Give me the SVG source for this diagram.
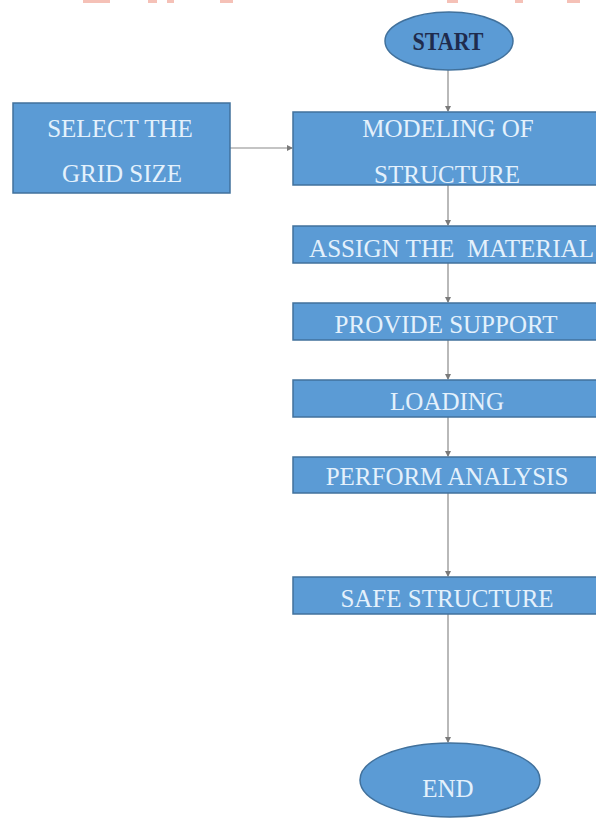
<svg xmlns="http://www.w3.org/2000/svg" width="596" height="821" viewBox="0 0 596 821">
  <style>
    .box { fill: #5b9bd5; stroke: #41719c; stroke-width: 1.5; }
    .lbl { font-family: "Liberation Serif", "Times New Roman", serif; font-size: 25px; fill: #e4f1fc; text-anchor: middle; }
    .dark { fill: #1f2b4d; font-weight: bold; }
    .link { stroke: #8a8a8a; stroke-width: 1.2; fill: none; marker-end: url(#tip); }
    .frag { fill: #e8765f; opacity: 0.45; }
  </style>
  <defs>
    <marker id="tip" viewBox="0 0 6 6" refX="5" refY="3" markerWidth="6" markerHeight="6" markerUnits="userSpaceOnUse" orient="auto">
      <path d="M0,0 L6,3 L0,6 Z" fill="#7a7a7a"/>
    </marker>
  </defs>

  <rect width="596" height="821" fill="#ffffff"/>

  <!-- clipped heading remnants along the top edge -->
  <g id="top-fragments">
    <rect class="frag" x="83" y="0" width="27" height="3"/>
    <rect class="frag" x="148" y="0" width="9" height="3"/>
    <rect class="frag" x="167" y="0" width="7" height="3"/>
    <rect class="frag" x="220" y="0" width="13" height="3"/>
    <rect class="frag" x="447" y="0" width="11" height="3"/>
    <rect class="frag" x="515" y="0" width="8" height="3"/>
    <rect class="frag" x="567" y="0" width="13" height="3"/>
  </g>

  <!-- connectors -->
  <g id="connectors">
    <line class="link" x1="448" y1="70" x2="448" y2="111"/>
    <line class="link" x1="230" y1="148" x2="292" y2="148"/>
    <line class="link" x1="448" y1="185" x2="448" y2="225"/>
    <line class="link" x1="448" y1="263" x2="448" y2="302"/>
    <line class="link" x1="448" y1="340" x2="448" y2="379"/>
    <line class="link" x1="448" y1="417" x2="448" y2="456"/>
    <line class="link" x1="448" y1="493" x2="448" y2="576"/>
    <line class="link" x1="448" y1="614" x2="448" y2="742"/>
  </g>

  <g id="start">
    <ellipse class="box" cx="449" cy="41" rx="64" ry="29"/>
    <text class="lbl dark" x="448" y="50" font-size="23" textLength="71" lengthAdjust="spacingAndGlyphs">START</text>
  </g>

  <g id="grid-size">
    <rect class="box" x="13" y="103" width="217" height="90"/>
    <text class="lbl" x="120" y="137">SELECT THE</text>
    <text class="lbl" x="122" y="182">GRID SIZE</text>
  </g>

  <g id="modeling">
    <rect class="box" x="293" y="112" width="304" height="73"/>
    <text class="lbl" x="448" y="137">MODELING OF</text>
    <text class="lbl" x="447" y="183">STRUCTURE</text>
  </g>

  <g id="material">
    <rect class="box" x="293" y="226" width="304" height="37"/>
    <text class="lbl" x="309" y="257" style="text-anchor:start" xml:space="preserve" textLength="285" lengthAdjust="spacingAndGlyphs">ASSIGN THE  MATERIAL</text>
  </g>

  <g id="support">
    <rect class="box" x="293" y="303" width="304" height="37"/>
    <text class="lbl" x="446" y="333">PROVIDE SUPPORT</text>
  </g>

  <g id="loading">
    <rect class="box" x="293" y="380" width="304" height="37"/>
    <text class="lbl" x="447" y="410">LOADING</text>
  </g>

  <g id="analysis">
    <rect class="box" x="293" y="457" width="304" height="36"/>
    <text class="lbl" x="447" y="485">PERFORM ANALYSIS</text>
  </g>

  <g id="safe">
    <rect class="box" x="293" y="577" width="304" height="37"/>
    <text class="lbl" x="447" y="607">SAFE STRUCTURE</text>
  </g>

  <g id="end">
    <ellipse class="box" cx="450" cy="780" rx="90" ry="37"/>
    <text class="lbl" x="448" y="797">END</text>
  </g>
</svg>
